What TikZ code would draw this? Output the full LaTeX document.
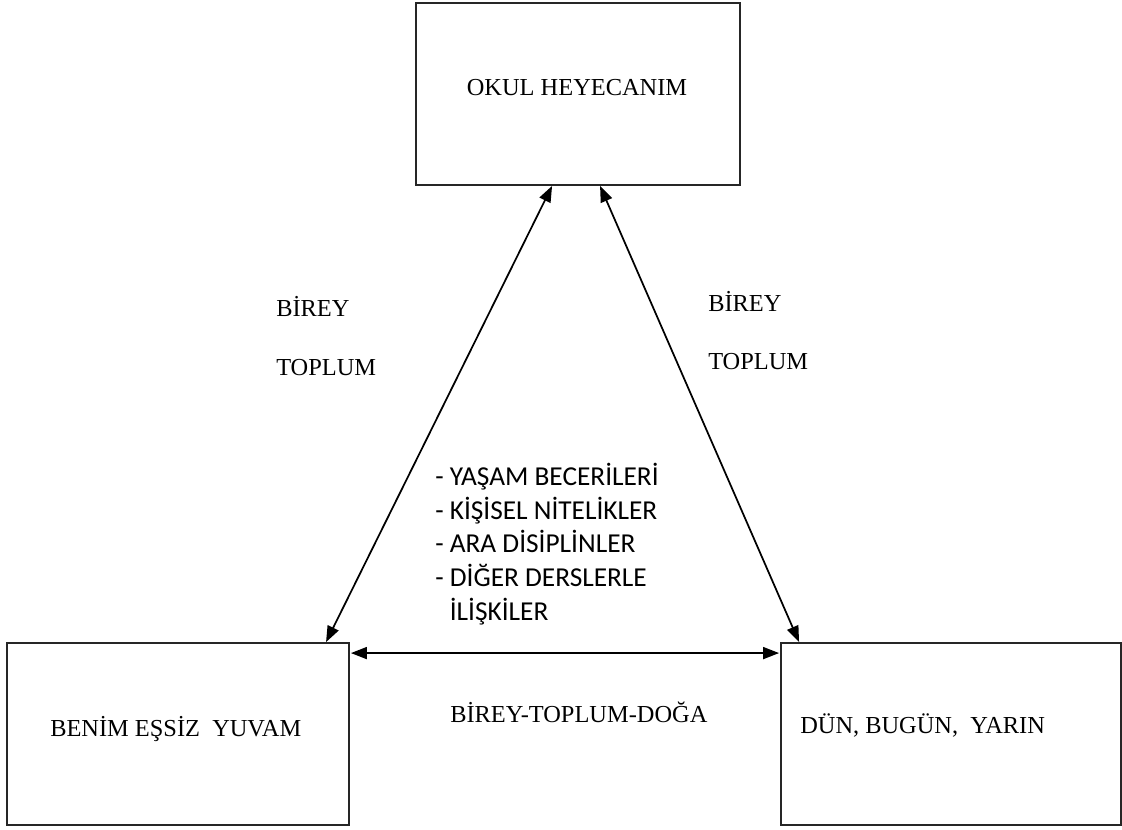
\documentclass[tikz,border=0pt]{standalone}
\usepackage{fontspec}
\setmainfont{Liberation Serif}
\newfontfamily\listfont{Carlito}
\usetikzlibrary{arrows.meta,calc}
\begin{document}
\begin{tikzpicture}[x=0.75pt,y=-0.75pt,
  box/.style={draw=black!85,line width=1.4pt,rectangle,inner sep=0pt},
  lbl/.style={font=\fontsize{18.3}{20}\selectfont,inner sep=0pt},
  item/.style={font=\listfont\fontsize{20.5}{24}\selectfont,inner sep=0pt,anchor=base west},
  conn/.style={line width=1.3pt,{Triangle[length=16pt*0.75,width=12pt*0.75]}-{Triangle[length=16pt*0.75,width=12pt*0.75]}}]
\useasboundingbox (0,0) rectangle (1122,829);
% boxes
\node[box,minimum width=243pt,minimum height=136.5pt] (T) at (578,94) {};
\node[box,minimum width=256.5pt,minimum height=136.5pt] (L) at (178,734) {};
\node[box,minimum width=255pt,minimum height=136.5pt] (R) at (951,734) {};
% box texts
\node[lbl,anchor=base] (tT) at (577,95) {OKUL HEYECANIM};
\node[lbl,anchor=base west] (tL) at (50,736) {BENİM EŞSİZ\ \ YUVAM};
\node[lbl,anchor=base west] (tR) at (800,733) {DÜN, BUGÜN,\ \ YARIN};
% connector end points
\coordinate (a1) at ($(T.south west)+(137,0)$);
\coordinate (a2) at ($(L.north west)+(320,0)$);
\coordinate (b1) at ($(T.south west)+(185,0)$);
\coordinate (b2) at ($(R.north west)+(19,0)$);
\coordinate (c1) at ($(L.north east)+(1,11)$);
\coordinate (c2) at ($(R.north west)+(-1,11)$);
\draw[conn] (a1) -- (a2);
\draw[conn] (b1) -- (b2);
\draw[conn] (c1) -- (c2);
% labels
\node[lbl,anchor=base west] (lb1) at (276,316) {BİREY};
\node[lbl,anchor=base west] (lb2) at (276,375) {TOPLUM};
\node[lbl,anchor=base west] (rb1) at (708,311) {BİREY};
\node[lbl,anchor=base west] (rb2) at (708,369) {TOPLUM};
\node[lbl,anchor=base west] (btd) at (450,722) {BİREY-TOPLUM-DOĞA};
% list
\node[item] (i1) at (435,485) {- YAŞAM BECERİLERİ};
\node[item] (i2) at (435,519) {- KİŞİSEL NİTELİKLER};
\node[item] (i3) at (435,552) {- ARA DİSİPLİNLER};
\node[item] (i4) at (435,586) {- DİĞER DERSLERLE};
\node[item] (i5) at (435,620) {\phantom{- }İLİŞKİLER};
\end{tikzpicture}
\end{document}
